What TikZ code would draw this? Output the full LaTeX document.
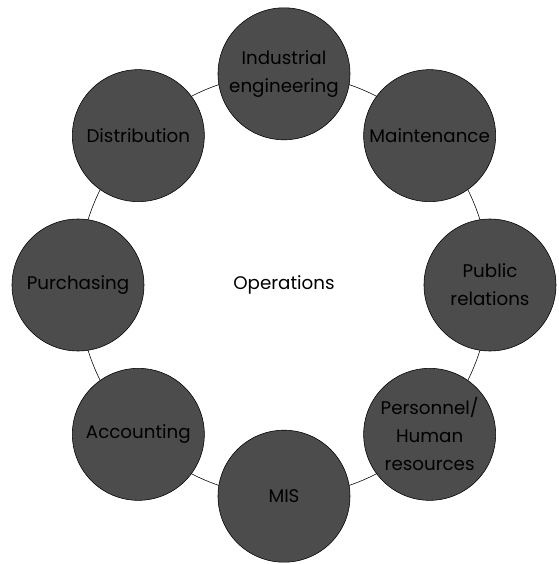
\documentclass[tikz,border=0pt]{standalone}
\usepackage{fontspec}
\setmainfont{Poppins}
\usetikzlibrary{positioning, calc}

\begin{document}
\begin{tikzpicture}[
        dept/.style={draw, circle, fill=black!70, minimum size=3.3cm, inner sep=0pt, align=center, text=black, font=\fontsize{13}{20}\selectfont},
        ring/.style={thin}
    ]
    \useasboundingbox (-7.1,-6.975) rectangle (6.875,7.125);

    \node[font=\fontsize{13}{20}\selectfont] (Ops) at (0,0) {Operations};
    \draw[ring] (Ops.center) ellipse (5.15 and 5.28);

    \node[dept] (IE) at (90:5.15 and 5.28) {Industrial\\engineering};
    \node[dept] (Maint) at (45:5.15 and 5.28) {Maintenance};
    \node[dept] (PR) at (0:5.15 and 5.28) {Public\\relations};
    \node[dept] (HR) at (-45:5.15 and 5.28) {Personnel/\\Human\\resources};
    \node[dept] (MIS) at (-90:5.15 and 5.28) {MIS};
    \node[dept] (Acct) at (-135:5.15 and 5.28) {Accounting};
    \node[dept] (Purch) at (180:5.15 and 5.28) {Purchasing};
    \node[dept] (Dist) at (135:5.15 and 5.28) {Distribution};

\end{tikzpicture}
\end{document}
